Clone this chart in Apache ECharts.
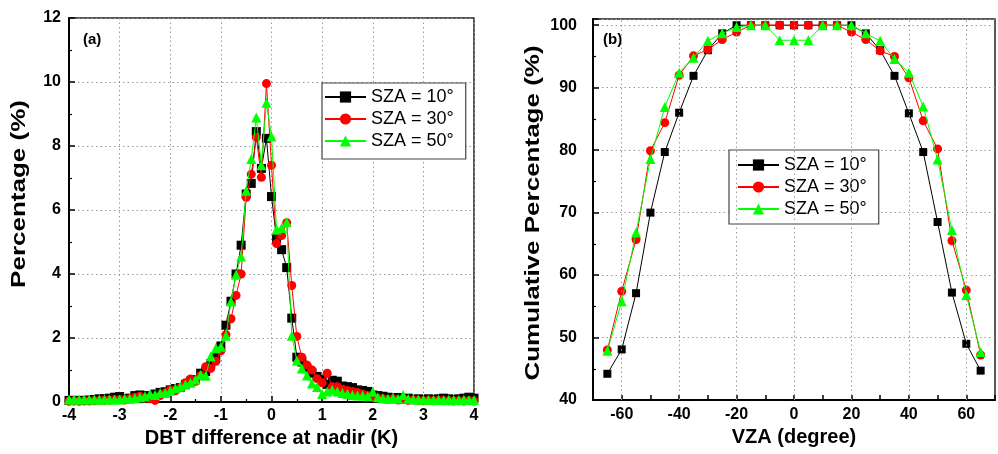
<!DOCTYPE html>
<html>
<head>
<meta charset="utf-8">
<script src="https://cdn.jsdelivr.net/npm/echarts@6/dist/echarts.min.js"></script>
<style>html,body{margin:0;padding:0;background:#fff}#c{width:998px;height:454px}</style>
</head>
<body>
<div id="c"></div>
<script>
// ---- Panel (a): DBT difference at nadir (K) vs percentage (%) ----
const dbtX = [-4.0,-3.9,-3.8,-3.7,-3.6,-3.5,-3.4,-3.3,-3.2,-3.1,-3.0,-2.9,-2.8,-2.7,-2.6,-2.5,-2.4,-2.3,-2.2,-2.1,
  -2.0,-1.9,-1.8,-1.7,-1.6,-1.5,-1.4,-1.3,-1.2,-1.1,-1.0,-0.9,-0.8,-0.7,-0.6,-0.5,-0.4,-0.3,-0.2,-0.1,
  0.0,0.1,0.2,0.3,0.4,0.5,0.6,0.7,0.8,0.9,1.0,1.1,1.2,1.3,1.4,1.5,1.6,1.7,1.8,1.9,
  2.0,2.1,2.2,2.3,2.4,2.5,2.6,2.7,2.8,2.9,3.0,3.1,3.2,3.3,3.4,3.5,3.6,3.7,3.8,3.9,4.0];
const pctSza10 = [0.05,0.05,0.05,0.05,0.06,0.08,0.10,0.10,0.12,0.15,0.17,0.10,0.12,0.20,0.22,0.20,0.18,0.25,0.30,0.32,
  0.38,0.42,0.45,0.55,0.65,0.70,0.90,0.95,1.20,1.40,1.75,2.40,3.15,4.00,4.90,6.50,6.83,8.45,7.30,8.24,
  6.42,5.10,4.76,4.20,2.62,1.40,1.25,1.05,0.90,0.80,0.70,0.55,0.68,0.65,0.50,0.48,0.45,0.38,0.36,0.33,
  0.22,0.20,0.18,0.15,0.12,0.14,0.10,0.12,0.08,0.10,0.08,0.10,0.08,0.10,0.12,0.10,0.08,0.10,0.12,0.15,0.12];
const pctSza30 = [0.02,0.03,0.02,0.03,0.03,0.04,0.05,0.05,0.06,0.07,0.08,0.06,0.10,0.15,0.18,0.12,0.10,0.05,0.20,0.28,
  0.38,0.35,0.45,0.60,0.72,0.65,0.83,1.10,1.05,1.27,1.60,2.10,2.60,3.33,4.00,6.40,7.12,8.27,7.02,9.95,
  7.40,4.95,5.20,5.60,3.64,2.05,1.40,1.16,1.00,0.73,0.60,0.90,0.48,0.48,0.40,0.36,0.33,0.30,0.25,0.20,
  0.15,0.12,0.10,0.08,0.10,0.06,0.08,0.05,0.06,0.05,0.04,0.05,0.04,0.05,0.04,0.04,0.03,0.04,0.03,0.04,0.03];
const pctSza50 = [0.08,0.08,0.08,0.08,0.08,0.08,0.08,0.08,0.08,0.08,0.08,0.10,0.10,0.12,0.15,0.18,0.25,0.22,0.28,0.28,
  0.35,0.43,0.48,0.55,0.60,0.70,0.85,0.82,1.42,1.68,1.73,2.07,3.14,3.98,4.55,6.60,7.59,8.89,7.40,9.35,
  8.30,5.39,5.44,5.62,2.07,1.30,1.05,0.83,0.58,0.47,0.25,0.33,0.38,0.33,0.28,0.25,0.22,0.20,0.20,0.18,
  0.32,0.15,0.12,0.10,0.12,0.10,0.22,0.10,0.08,0.08,0.07,0.07,0.06,0.07,0.06,0.07,0.06,0.06,0.07,0.06,0.06];

// ---- Panel (b): VZA (degree) vs cumulative percentage (%) ----
const vza = [-65,-60,-55,-50,-45,-40,-35,-30,-25,-20,-15,-10,-5,0,5,10,15,20,25,30,35,40,45,50,55,60,65];
const cumSza10 = [44.2,48.1,57.1,70.0,79.7,86.0,91.9,96.0,98.7,100,100,100,100,100,100,100,100,100,98.7,96.0,91.9,85.9,79.7,68.5,57.2,49.0,44.7];
const cumSza30 = [48.0,57.4,65.7,79.9,84.4,92.0,95.1,96.1,97.7,98.9,100,100,100,100,100,100,100,98.9,97.7,95.9,95.0,91.6,84.7,80.2,65.5,57.6,47.2];
const cumSza50 = [47.9,55.8,66.8,78.6,86.9,92.4,94.8,97.5,98.7,99.7,100,100,97.6,97.6,97.6,100,100,100,98.7,97.5,94.6,92.4,87.0,78.5,67.2,56.8,47.7];
const vzaGridTicks = [-60,-40,-20,0,20,40,60];

const seriesNames = ['SZA = 10°','SZA = 30°','SZA = 50°'];
const colors = ['#000000','#ff0000','#00ff00'];
const symbols = ['rect','circle','triangle'];

const FONT = '"Liberation Sans", Arial, sans-serif';
const gridLine = {show:true, lineStyle:{color:'#9a9a9a', type:[1.5,3], width:1}};
const labelStyle = {color:'#000', fontFamily:FONT, fontSize:16, fontWeight:'bold'};
const nameStyle = {color:'#000', fontFamily:FONT, fontSize:20, fontWeight:'bold'};

function pairs(xs, ys){ return xs.map((x,i)=>[x, ys[i]]); }

const leftVals = [pctSza10, pctSza30, pctSza50];
const rightVals = [cumSza10, cumSza30, cumSza50];
const leftSizes = [9, 9, 10];
const rightSizes = [8, 9, 10];

const series = [];
leftVals.forEach((v,i)=>{
  series.push({
    name: seriesNames[i], type:'line', xAxisIndex:0, yAxisIndex:0,
    data: pairs(dbtX, v), symbol: symbols[i], symbolSize: leftSizes[i], showSymbol:true,
    itemStyle:{color:colors[i]}, lineStyle:{color:colors[i], width:1}, z: 3+i
  });
});
series.push({
  name:'grid', type:'line', xAxisIndex:1, yAxisIndex:1, data:[], z:1, silent:true,
  markLine:{silent:true, symbol:['none','none'], label:{show:false},
    lineStyle:{color:'#9a9a9a', type:[1.5,3], width:1},
    data: vzaGridTicks.map(v=>({xAxis:v}))}
});
rightVals.forEach((v,i)=>{
  series.push({
    name: seriesNames[i], type:'line', xAxisIndex:1, yAxisIndex:1,
    data: pairs(vza, v), symbol: symbols[i], symbolSize: rightSizes[i], showSymbol:true,
    itemStyle:{color:colors[i]}, lineStyle:{color:colors[i], width:1}, z: 3+i
  });
});

const legendCommon = {
  orient:'vertical', data: seriesNames, itemWidth:41, itemHeight:14, itemGap:4,
  backgroundColor:'#fff', borderColor:'#444', borderWidth:1.2,
  textStyle:{color:'#000', fontFamily:FONT, fontSize:18, lineHeight:18}, selectedMode:false
};

const yTitleFont = 'bold 26px ' + FONT;

const option = {
  animation:false,
  backgroundColor:'#fff',
  grid:[
    {left:69, right:524, top:18, bottom:52, show:true, borderColor:'#222', borderWidth:1.5, backgroundColor:'transparent'},
    {left:593, right:-9, top:19, bottom:54, show:true, borderColor:'#222', borderWidth:1.5, backgroundColor:'transparent'}
  ],
  xAxis:[
    {gridIndex:0, type:'value', min:-4, max:4, interval:1,
     name:'DBT difference at nadir (K)', nameLocation:'middle', nameGap:25, nameTextStyle:nameStyle,
     axisLine:{show:true, onZero:false, lineStyle:{color:'#000', width:2}},
     axisTick:{show:true, inside:true, length:6, lineStyle:{color:'#000', width:1.5}},
     minorTick:{show:true, splitNumber:2, length:3, lineStyle:{color:'#000', width:1.2}},
     axisLabel:Object.assign({margin:6}, labelStyle),
     splitLine:gridLine},
    {gridIndex:1, type:'value', min:-70, max:70, interval:10,
     name:'VZA (degree)', nameLocation:'middle', nameGap:27, nameTextStyle:nameStyle,
     axisLine:{show:true, onZero:false, lineStyle:{color:'#000', width:2}},
     axisTick:{show:true, inside:true, length:5, lineStyle:{color:'#000', width:1.5}},
     axisLabel:Object.assign({margin:7, formatter:v => (v % 20 === 0 ? String(v) : '')}, labelStyle),
     splitLine:{show:false}}
  ],
  yAxis:[
    {gridIndex:0, type:'value', min:0, max:12, interval:2,
     axisLine:{show:true, onZero:false, lineStyle:{color:'#000', width:2}},
     axisTick:{show:true, inside:true, length:6, lineStyle:{color:'#000', width:1.5}},
     minorTick:{show:true, splitNumber:2, length:3, lineStyle:{color:'#000', width:1.2}},
     axisLabel:Object.assign({margin:8}, labelStyle),
     splitLine:gridLine},
    {gridIndex:1, type:'value', min:40, max:101, interval:10,
     axisLine:{show:true, onZero:false, lineStyle:{color:'#000', width:2}},
     axisTick:{show:true, inside:true, length:6, lineStyle:{color:'#000', width:1.5}},
     minorTick:{show:true, splitNumber:2, length:3, lineStyle:{color:'#000', width:1.2}},
     axisLabel:Object.assign({margin:16, formatter:v => (v % 10 === 0 ? String(v) : '')}, labelStyle),
     splitLine:gridLine}
  ],
  legend:[
    Object.assign({left:322, top:83, padding:[5,12,9,2]}, legendCommon),
    Object.assign({left:729, top:150, padding:[6,12,6,8]}, legendCommon)
  ],
  graphic:[
    {type:'text', left:83, top:32, style:{text:'(a)', fill:'#000', font:'bold 15px ' + FONT}},
    {type:'text', left:603, top:32, style:{text:'(b)', fill:'#000', font:'bold 15px ' + FONT}},
    {type:'text', x:19, y:194, rotation:Math.PI/2, scaleY:0.78,
     style:{text:'Percentage (%)', fill:'#000', font:yTitleFont, align:'center', verticalAlign:'middle'}},
    {type:'text', x:533, y:213, rotation:Math.PI/2, scaleY:0.78,
     style:{text:'Cumulative Percentage (%)', fill:'#000', font:yTitleFont, align:'center', verticalAlign:'middle'}}
  ],
  series: series
};

const chart = echarts.init(document.getElementById('c'), null, {renderer:'canvas'});
chart.setOption(option);
</script>
</body>
</html>
